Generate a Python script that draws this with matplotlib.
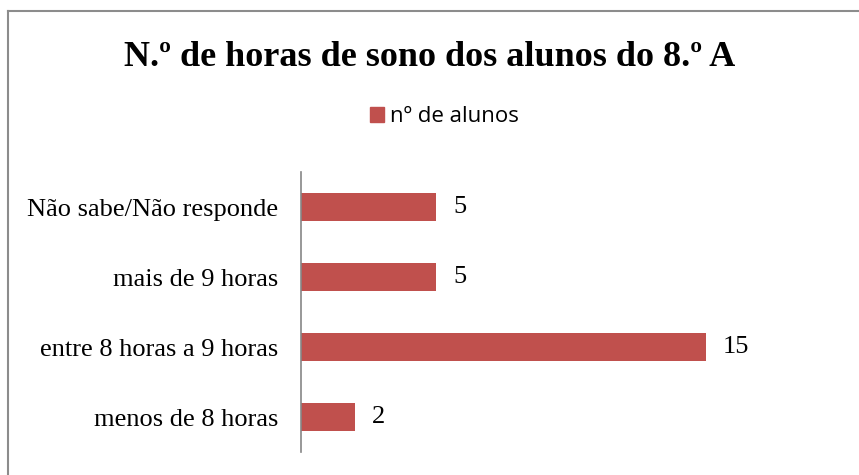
import matplotlib
matplotlib.use("Agg")
import matplotlib.pyplot as plt
from matplotlib.patches import Rectangle
from matplotlib.lines import Line2D

categorias = ["menos de 8 horas", "entre 8 horas a 9 horas",
              "mais de 9 horas", "Não sabe/Não responde"]
n_alunos = [2, 15, 5, 5]
serie = "nº de alunos"
titulo = "N.º de horas de sono dos alunos do 8.º A"

cor = "#c0504d"
W, H = 859, 475

fig = plt.figure(figsize=(W / 100, H / 100), dpi=100)
ax = fig.add_axes([301 / W, 23 / H, 540 / W, 280 / H])

ax.barh(range(len(categorias)), n_alunos, height=0.39, color=cor, label=serie)
ax.set_xlim(0, 20)
ax.set_ylim(-0.5, len(categorias) - 0.5)
ax.set_yticks(range(len(categorias)))
ax.set_yticklabels(categorias, family="Liberation Serif", fontsize=19)
ax.tick_params(axis="y", length=0, pad=16.5)
ax.set_xticks([])
for s in ["top", "right", "bottom"]:
    ax.spines[s].set_visible(False)
ax.spines["left"].set_color("#868686")
ax.spines["left"].set_linewidth(1.2)

for i, v in enumerate(n_alunos):
    ax.text(v + 0.63, i, str(v), va="center", ha="left",
            family="Liberation Serif", fontsize=19)

fig.text(430 / W, 1 - 57 / H, titulo, ha="center", va="center",
         family="Liberation Serif", fontweight="bold", fontsize=26)

fig.legend(handles=[Rectangle((0, 0), 1, 1, color=cor)], labels=[serie],
           loc="center", bbox_to_anchor=(444 / W, 1 - 117 / H), frameon=False,
           prop={"family": "Open Sans", "size": 16}, handlelength=0.65,
           handleheight=0.65, handletextpad=0.25)

# borda cinzenta (cortada à direita e em baixo)
fig.add_artist(Line2D([7.5 / W, 1], [1 - 10.5 / H, 1 - 10.5 / H],
                      transform=fig.transFigure, color="#8c8c8c", lw=1.5))
fig.add_artist(Line2D([7.5 / W, 7.5 / W], [0, 1 - 10.5 / H],
                      transform=fig.transFigure, color="#8c8c8c", lw=1.5))

fig.savefig("out.png", dpi=100)
